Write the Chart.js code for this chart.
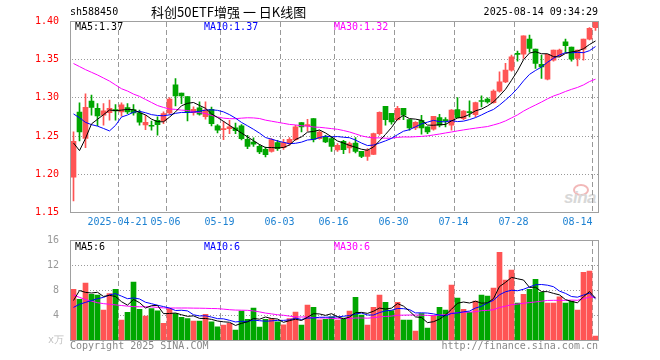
<!DOCTYPE html>
<html><head><meta charset="utf-8">
<script src="https://cdn.jsdelivr.net/npm/chart.js@4.4.1/dist/chart.umd.min.js"></script>
<style>
html,body{margin:0;padding:0;background:#fff;}
#wrap{position:relative;width:660px;height:360px;overflow:hidden;background:#fff;}
canvas{position:absolute;left:0;top:0;}
.t{position:absolute;font-family:'DejaVu Sans Mono',monospace;font-size:10px;line-height:12px;white-space:nowrap;}
.cjk{position:absolute;font-family:'Noto Sans CJK SC',sans-serif;font-size:13px;line-height:16px;white-space:nowrap;color:#000;}
#logo{position:absolute;left:564px;top:188px;font:italic bold 17px 'Liberation Sans',Arial,sans-serif;color:#d8d8d8;letter-spacing:-0.5px;}
#eye{position:absolute;left:573px;top:184px;width:12px;height:8px;border:2px solid #f2b8b8;border-radius:50%;}
</style></head><body>
<div id="wrap">
<div id="eye"></div><div id="logo">sina</div>
<canvas id="gc" width="660" height="360"></canvas>
<canvas id="pc" width="660" height="360"></canvas>
<canvas id="vc" width="660" height="360"></canvas>
<div class="t" style="left:70px;top:6px;color:#000;">sh588450</div>
<div class="cjk" style="left:151px;top:4px;">科创50ETF增强 一 日K线图</div>
<div class="t" style="right:62px;top:6px;color:#000;">2025-08-14 09:34:29</div>
<div class="t" style="left:75px;top:21px;color:#000;">MA5:1.37</div>
<div class="t" style="left:204px;top:21px;color:#0000ff;">MA10:1.37</div>
<div class="t" style="left:334px;top:21px;color:#ff00ff;">MA30:1.32</div>
<div class="t" style="left:75px;top:241px;color:#000;">MA5:6</div>
<div class="t" style="left:204px;top:241px;color:#0000ff;">MA10:6</div>
<div class="t" style="left:334px;top:241px;color:#ff00ff;">MA30:6</div>
<div class="t" style="left:48px;top:334px;color:#c0c0c0;">x万</div>
<div class="t" style="left:70px;top:340px;color:#888;">Copyright 2025 SINA.COM</div>
<div class="t" style="right:62px;top:340px;color:#888;">http://finance.sina.com.cn</div>
</div>
<script>
const DATES = ['2025-04-09','2025-04-10','2025-04-11','2025-04-14','2025-04-15','2025-04-16','2025-04-17','2025-04-18','2025-04-21','2025-04-22','2025-04-23','2025-04-24','2025-04-25','2025-04-28','2025-04-29','2025-04-30','2025-05-06','2025-05-07','2025-05-08','2025-05-09','2025-05-12','2025-05-13','2025-05-14','2025-05-15','2025-05-16','2025-05-19','2025-05-20','2025-05-21','2025-05-22','2025-05-23','2025-05-26','2025-05-27','2025-05-28','2025-05-29','2025-05-30','2025-06-03','2025-06-04','2025-06-05','2025-06-06','2025-06-09','2025-06-10','2025-06-11','2025-06-12','2025-06-13','2025-06-16','2025-06-17','2025-06-18','2025-06-19','2025-06-20','2025-06-23','2025-06-24','2025-06-25','2025-06-26','2025-06-27','2025-06-30','2025-07-01','2025-07-02','2025-07-03','2025-07-04','2025-07-07','2025-07-08','2025-07-09','2025-07-10','2025-07-11','2025-07-14','2025-07-15','2025-07-16','2025-07-17','2025-07-18','2025-07-21','2025-07-22','2025-07-23','2025-07-24','2025-07-25','2025-07-28','2025-07-29','2025-07-30','2025-07-31','2025-08-01','2025-08-04','2025-08-05','2025-08-06','2025-08-07','2025-08-08','2025-08-11','2025-08-12','2025-08-13','2025-08-14'];

const OPEN  = [1.1964,1.2813,1.2470,1.2957,1.2865,1.2773,1.2808,1.2848,1.2817,1.2874,1.2848,1.2804,1.2646,1.2642,1.2708,1.2699,1.2804,1.3171,1.3062,1.3018,1.2808,1.2870,1.2755,1.2852,1.2633,1.2585,1.2598,1.2607,1.2633,1.2458,1.2423,1.2366,1.2327,1.2300,1.2414,1.2349,1.2401,1.2454,1.2677,1.2633,1.2729,1.2467,1.2489,1.2467,1.2318,1.2432,1.2344,1.2410,1.2301,1.2235,1.2261,1.2532,1.2891,1.2799,1.2716,1.2865,1.2716,1.2607,1.2707,1.2620,1.2590,1.2742,1.2716,1.2642,1.2847,1.2729,1.2822,1.2780,1.2966,1.2983,1.2939,1.3088,1.3210,1.3364,1.3582,1.3574,1.3770,1.3639,1.3438,1.3245,1.3495,1.3552,1.3735,1.3665,1.3517,1.3639,1.3770,1.3919];
const HIGH  = [1.2555,1.2935,1.3053,1.3036,1.2926,1.2926,1.2970,1.2913,1.2935,1.2926,1.2913,1.2839,1.2773,1.2695,1.2752,1.2817,1.3005,1.3254,1.3062,1.3018,1.2883,1.2948,1.2950,1.2880,1.2650,1.2694,1.2707,1.2672,1.2650,1.2511,1.2476,1.2388,1.2357,1.2467,1.2445,1.2458,1.2480,1.2642,1.2677,1.2721,1.2729,1.2572,1.2511,1.2489,1.2401,1.2445,1.2423,1.2480,1.2301,1.2336,1.2541,1.2817,1.2891,1.2799,1.2891,1.2865,1.2716,1.2690,1.2773,1.2620,1.2760,1.2786,1.2742,1.2847,1.3005,1.2835,1.2961,1.2945,1.3027,1.3000,1.3105,1.3342,1.3451,1.3560,1.3613,1.3814,1.3823,1.3639,1.3560,1.3569,1.3626,1.3640,1.3770,1.3665,1.3626,1.3770,1.3920,1.4000];
const LOW   = [1.1650,1.2436,1.2349,1.2773,1.2638,1.2642,1.2708,1.2708,1.2760,1.2795,1.2773,1.2642,1.2585,1.2576,1.2511,1.2664,1.2786,1.2896,1.2926,1.2699,1.2773,1.2773,1.2720,1.2633,1.2541,1.2454,1.2532,1.2532,1.2450,1.2336,1.2366,1.2270,1.2226,1.2290,1.2314,1.2327,1.2380,1.2445,1.2554,1.2563,1.2423,1.2460,1.2414,1.2301,1.2301,1.2270,1.2279,1.2279,1.2218,1.2183,1.2257,1.2511,1.2642,1.2655,1.2707,1.2716,1.2576,1.2585,1.2524,1.2532,1.2576,1.2620,1.2620,1.2576,1.2742,1.2716,1.2751,1.2750,1.2882,1.2930,1.2930,1.3075,1.3200,1.3350,1.3482,1.3517,1.3600,1.3385,1.3254,1.3236,1.3480,1.3540,1.3595,1.3480,1.3420,1.3495,1.3760,1.3884];
const CLOSE = [1.2432,1.2555,1.2878,1.2874,1.2765,1.2830,1.2865,1.2830,1.2909,1.2817,1.2804,1.2681,1.2681,1.2629,1.2651,1.2795,1.2983,1.3027,1.3027,1.2813,1.2852,1.2786,1.2840,1.2664,1.2576,1.2598,1.2620,1.2572,1.2467,1.2366,1.2393,1.2292,1.2257,1.2454,1.2336,1.2414,1.2458,1.2620,1.2620,1.2650,1.2458,1.2554,1.2423,1.2366,1.2379,1.2323,1.2401,1.2301,1.2235,1.2314,1.2532,1.2812,1.2716,1.2686,1.2865,1.2773,1.2607,1.2681,1.2607,1.2554,1.2760,1.2642,1.2699,1.2839,1.2742,1.2826,1.2808,1.2940,1.2953,1.2948,1.3088,1.3210,1.3364,1.3538,1.3569,1.3814,1.3648,1.3451,1.3407,1.3569,1.3626,1.3626,1.3683,1.3508,1.3626,1.3770,1.3910,1.3998];

const MA5  = [1.2410,1.2310,1.2470,1.2660,1.2720,1.2780,1.2842,1.2833,1.2840,1.2850,1.2845,1.2808,1.2778,1.2722,1.2689,1.2687,1.2748,1.2817,1.2897,1.2929,1.2940,1.2901,1.2864,1.2791,1.2744,1.2693,1.2640,1.2590,1.2540,1.2490,1.2440,1.2390,1.2350,1.2350,1.2346,1.2351,1.2384,1.2456,1.2490,1.2552,1.2561,1.2580,1.2541,1.2490,1.2436,1.2409,1.2378,1.2354,1.2328,1.2315,1.2357,1.2439,1.2522,1.2612,1.2722,1.2770,1.2729,1.2722,1.2707,1.2644,1.2642,1.2649,1.2652,1.2699,1.2736,1.2750,1.2783,1.2831,1.2854,1.2895,1.2947,1.3028,1.3113,1.3230,1.3354,1.3499,1.3587,1.3604,1.3578,1.3578,1.3540,1.3536,1.3582,1.3602,1.3614,1.3643,1.3699,1.3745];
const MA10 = [1.2790,1.2740,1.2680,1.2650,1.2630,1.2600,1.2568,1.2640,1.2750,1.2776,1.2813,1.2825,1.2806,1.2781,1.2770,1.2766,1.2778,1.2798,1.2810,1.2809,1.2814,1.2825,1.2841,1.2844,1.2837,1.2817,1.2781,1.2735,1.2679,1.2635,1.2589,1.2539,1.2481,1.2460,1.2436,1.2418,1.2401,1.2406,1.2421,1.2449,1.2456,1.2482,1.2499,1.2490,1.2494,1.2485,1.2479,1.2448,1.2409,1.2376,1.2383,1.2409,1.2438,1.2470,1.2519,1.2564,1.2584,1.2622,1.2660,1.2683,1.2706,1.2689,1.2687,1.2703,1.2690,1.2696,1.2716,1.2742,1.2777,1.2816,1.2849,1.2906,1.2972,1.3042,1.3125,1.3223,1.3308,1.3359,1.3404,1.3466,1.3520,1.3562,1.3593,1.3590,1.3596,1.3592,1.3618,1.3672];
const MA30 = [1.3450,1.3410,1.3370,1.3335,1.3300,1.3260,1.3220,1.3170,1.3120,1.3090,1.3050,1.3020,1.2980,1.2940,1.2900,1.2875,1.2855,1.2850,1.2840,1.2835,1.2820,1.2810,1.2795,1.2770,1.2750,1.2735,1.2728,1.2728,1.2735,1.2740,1.2738,1.2730,1.2709,1.2695,1.2681,1.2667,1.2653,1.2646,1.2636,1.2631,1.2619,1.2615,1.2607,1.2598,1.2589,1.2573,1.2554,1.2529,1.2503,1.2486,1.2476,1.2477,1.2472,1.2473,1.2483,1.2489,1.2488,1.2492,1.2496,1.2503,1.2515,1.2527,1.2541,1.2554,1.2568,1.2581,1.2593,1.2604,1.2615,1.2625,1.2646,1.2668,1.2699,1.2738,1.2778,1.2827,1.2869,1.2907,1.2946,1.2988,1.3025,1.3052,1.3084,1.3112,1.3137,1.3170,1.3214,1.3245];

const VOL   = [8.2,6.6,9.17,7.4,7.25,4.85,7.5,8.2,3.25,4.5,9.33,5.0,3.9,5.1,4.75,2.75,5.1,4.3,3.7,3.5,3.1,3.1,4.2,3.0,2.2,2.45,2.75,1.65,4.7,3.4,5.17,2.13,3.4,3.5,3.0,2.5,3.5,4.55,2.45,5.65,5.3,3.3,3.4,3.8,3.25,3.6,4.7,6.9,4.05,2.45,5.3,7.25,6.1,4.8,6.1,3.25,3.25,1.5,4.3,2.0,4.0,5.3,4.85,8.85,6.8,5.0,4.5,6.3,7.25,7.1,8.4,14.1,9.65,11.25,6.0,7.4,8.2,9.8,7.7,6.0,6.0,7.0,6.0,6.3,4.85,10.9,11.1,0.7];
const VMA5  = [6.4,8.0,7.7,7.6,7.72,7.05,7.23,7.04,6.21,5.66,6.56,6.06,5.20,5.57,5.62,4.30,4.32,4.40,4.12,3.87,3.94,3.54,3.52,3.38,3.12,2.99,2.92,2.41,2.75,2.99,3.53,3.41,3.76,3.52,3.44,2.91,3.18,3.41,3.20,3.73,4.29,4.25,4.02,4.29,3.81,3.47,3.75,4.45,4.50,4.34,4.68,5.19,5.03,5.18,5.91,5.50,4.70,3.78,3.68,2.86,3.01,3.42,4.09,5.00,5.96,6.16,6.00,6.29,5.97,6.03,6.71,8.63,9.30,10.10,9.88,9.68,8.50,8.53,7.82,7.82,7.54,7.30,6.54,6.26,6.03,7.01,7.83,6.77];
const VMA10 = [5.3,5.8,6.1,6.4,6.7,6.9,7.3,7.5,7.1,6.69,6.81,6.65,6.12,5.89,5.64,5.43,5.19,4.80,4.84,4.74,4.12,3.93,3.96,3.75,3.50,3.47,3.23,2.97,3.07,3.06,3.26,3.17,3.09,3.14,3.22,3.22,3.30,3.59,3.36,3.59,3.60,3.72,3.72,3.75,3.77,3.88,4.00,4.24,4.40,4.08,4.08,4.47,4.74,4.84,5.13,5.09,4.95,4.41,4.43,4.39,4.26,4.06,3.94,4.34,4.41,4.59,4.71,5.19,5.49,6.00,6.44,7.32,7.80,8.04,7.96,8.20,8.57,8.92,8.96,8.85,8.61,7.90,7.54,7.04,6.93,7.28,7.57,6.66];
const VMA30 = [7.3,6.9,6.55,6.3,6.05,5.9,5.8,5.7,5.6,5.5,5.42,5.40,5.40,5.38,5.30,5.22,5.20,5.20,5.20,5.20,5.18,5.17,5.15,5.12,5.10,5.02,4.93,4.87,4.85,4.83,4.73,4.58,4.39,4.26,4.12,4.04,3.90,3.78,3.76,3.79,3.66,3.60,3.59,3.54,3.49,3.52,3.51,3.60,3.61,3.57,3.65,3.78,3.85,3.91,4.04,4.06,4.08,4.08,4.06,4.02,3.98,4.08,4.13,4.31,4.44,4.52,4.55,4.61,4.77,4.82,4.92,5.28,5.49,5.74,5.83,5.96,6.07,6.17,6.29,6.41,6.43,6.43,6.42,6.47,6.43,6.69,6.95,6.92];

const PRICE_TICKS = [1.15,1.20,1.25,1.30,1.35,1.40];
const VOL_TICKS = [0,4,8,12,16];
const VOL_TICK_LABELS = ['','4','8','12','16'];
const X_TICK_DATES = ['2025-04-21','2025-05-06','2025-05-19','2025-06-03','2025-06-16','2025-06-30','2025-07-14','2025-07-28','2025-08-14'];
const X_TICK_TEXT  = ['2025-04-21','05-06','05-19','06-03','06-16','06-30','07-14','07-28','08-14'];

const RED = '#ff5454', GREEN = '#00a600';
const COLORS = CLOSE.map((c,i) => c >= OPEN[i] ? RED : GREEN);
const MONO = "'DejaVu Sans Mono', monospace";
const GRID_COLOR = '#999999';
const gridCtx = document.getElementById('gc').getContext('2d');

function xAxis(){
  return {
    type:'category', offset:true,
    grid:{display:false},
    border:{display:false},
    ticks:{display:false, autoSkip:false},
    afterFit:(s)=>{ s.height = 0; }
  };
}
/* grid lines positioned with the chart's own scales; painted on the canvas underneath the chart */
function drawGrid(chart, yTicks){
  const a = chart.chartArea, ctx = gridCtx, xs = chart.scales.x, ys = chart.scales.y;
  const half = (xs.getPixelForValue(1) - xs.getPixelForValue(0)) / 2;
  const L = Math.floor(a.left), R = Math.floor(a.right), T = Math.floor(a.top), B = Math.floor(a.bottom);
  ctx.save();
  ctx.fillStyle = GRID_COLOR;
  for (let k = 1; k < yTicks.length - 1; k++) {
    const y = Math.floor(ys.getPixelForValue(yTicks[k]));
    for (let x = L + 2; x < R; x += 3) ctx.fillRect(x, y, 1, 1);
  }
  for (let k = 0; k < X_TICK_DATES.length; k++) {
    const idx = DATES.indexOf(X_TICK_DATES[k]);
    const x = Math.floor(xs.getPixelForValue(idx) - half);
    for (let y = T + 1; y < B; y += 8) ctx.fillRect(x, y, 1, Math.min(5, B - y));
  }
  ctx.restore();
}
function drawFrame(chart){
  const a = chart.chartArea, ctx = chart.ctx;
  const L = Math.floor(a.left), R = Math.floor(a.right), T = Math.floor(a.top), B = Math.floor(a.bottom);
  ctx.save();
  ctx.fillStyle = '#a0a0a0';
  ctx.fillRect(L, T, R - L + 1, 1);
  ctx.fillRect(L, B, R - L + 1, 1);
  ctx.fillRect(L, T, 1, B - T + 1);
  ctx.fillRect(R, T, 1, B - T + 1);
  ctx.restore();
}
function makePlugin(yTicks, withDates){
  return {
    id:'sinaDecor',
    afterDraw(chart){
      drawGrid(chart, yTicks);
      drawFrame(chart);
      if (!withDates) return;
      const xs = chart.scales.x, ctx = chart.ctx;
      const half = (xs.getPixelForValue(1) - xs.getPixelForValue(0)) / 2;
      ctx.save();
      ctx.font = '10px ' + MONO; ctx.fillStyle = '#1e82d2'; ctx.textBaseline = 'middle';
      for (let k = 0; k < X_TICK_DATES.length; k++) {
        const idx = DATES.indexOf(X_TICK_DATES[k]);
        const gx = xs.getPixelForValue(idx) - half;
        const w = ctx.measureText(X_TICK_TEXT[k]).width;
        let x = gx - 1 - w/2;
        if (k === X_TICK_DATES.length - 1) x = gx - w;
        ctx.fillText(X_TICK_TEXT[k], x, 222);
      }
      ctx.restore();
    }
  };
}
function lineDs(data, color){
  return {type:'line', data, borderColor:color, borderWidth:1, pointRadius:0, tension:0, fill:false, order:0};
}
const common = {
  responsive:false, animation:false, events:[], devicePixelRatio:1,
  plugins:{legend:{display:false}, tooltip:{enabled:false}}
};

new Chart(document.getElementById('pc'), {
  type:'bar',
  data:{
    labels: DATES,
    datasets:[
      lineDs(MA5,'#000000'), lineDs(MA10,'#0000ff'), lineDs(MA30,'#ff00ff'),
      {type:'bar', data: OPEN.map((o,i)=>[o, CLOSE[i]]), backgroundColor:COLORS, barThickness:5, grouped:false, minBarLength:1, order:1},
      {type:'bar', data: LOW.map((l,i)=>[l, HIGH[i]]), backgroundColor:COLORS, barThickness:1, grouped:false, order:2}
    ]
  },
  options: Object.assign({}, common, {
    layout:{padding:{left:0, right:61.5, top:21.5, bottom:147.5}},
    scales:{
      x: xAxis(),
      y:{type:'linear', min:1.15, max:1.40,
        afterBuildTicks:(s)=>{ s.ticks = PRICE_TICKS.map(v=>({value:v})); },
        grid:{display:false},
        border:{display:false},
        ticks:{color:'#ff0000', font:{family:MONO, size:10}, padding:3.5,
          callback:(v,i)=> PRICE_TICKS[i].toFixed(2)},
        afterFit:(s)=>{ s.width = 70.5; }
      }
    }
  }),
  plugins:[makePlugin(PRICE_TICKS, true)]
});

new Chart(document.getElementById('vc'), {
  type:'bar',
  data:{
    labels: DATES,
    datasets:[
      lineDs(VMA5,'#000000'), lineDs(VMA10,'#0000ff'), lineDs(VMA30,'#ff00ff'),
      {type:'bar', data: VOL, backgroundColor:COLORS, barThickness:5, grouped:false, order:1}
    ]
  },
  options: Object.assign({}, common, {
    layout:{padding:{left:0, right:61.5, top:240.5, bottom:19.5}},
    scales:{
      x: xAxis(),
      y:{type:'linear', min:0, max:16,
        afterBuildTicks:(s)=>{ s.ticks = VOL_TICKS.map(v=>({value:v})); },
        grid:{display:false},
        border:{display:false},
        ticks:{color:'#999999', font:{family:MONO, size:10}, padding:3.5,
          callback:(v,i)=> VOL_TICK_LABELS[i]},
        afterFit:(s)=>{ s.width = 70.5; }
      }
    }
  }),
  plugins:[makePlugin(VOL_TICKS, false)]
});
</script>
</body></html>
